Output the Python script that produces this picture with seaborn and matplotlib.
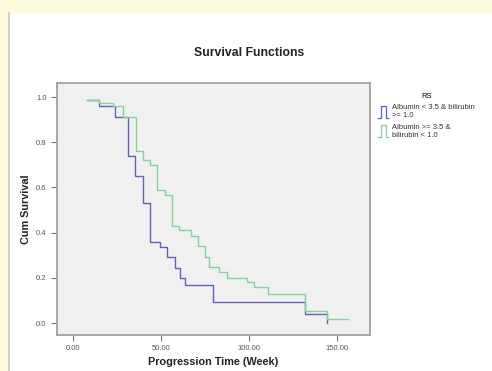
import matplotlib
matplotlib.use('Agg')
import matplotlib.pyplot as plt
from matplotlib.lines import Line2D
from matplotlib.path import Path
from matplotlib.patches import Rectangle
import seaborn as sns
import pandas as pd

# Kaplan-Meier step values (time in weeks, cumulative survival)
blue_time = [8, 15, 24, 31.5, 35, 40, 43.5, 49.4, 53.2, 58, 60.8, 63.6, 79.7, 132, 144.5]
blue_surv = [0.985, 0.96, 0.91, 0.74, 0.65, 0.53, 0.36, 0.335, 0.29, 0.243, 0.20, 0.168, 0.094, 0.04, 0.0]

green_time = [8, 15, 23, 28.5, 35.8, 40, 44, 47.5, 52.3, 56, 60, 67, 71, 75, 77,
              83, 87.3, 99, 103, 111, 132, 144.5, 156]
green_surv = [0.985, 0.975, 0.96, 0.91, 0.76, 0.72, 0.70, 0.59, 0.565, 0.43, 0.41, 0.385, 0.34, 0.29, 0.25,
              0.225, 0.20, 0.18, 0.16, 0.13, 0.055, 0.02, 0.02]

group_names = ["Albumin < 3.5 & bilirubin\n>= 1.0", "Albumin >= 3.5 &\nbilirubin < 1.0"]
group_colors = ["#6062b8", "#80d49a"]

x_ticks = [0, 50, 100, 150]
y_ticks = [0.0, 0.2, 0.4, 0.6, 0.8, 1.0]

df = pd.concat([
    pd.DataFrame({"time": blue_time, "surv": blue_surv, "group": group_names[0]}),
    pd.DataFrame({"time": green_time, "surv": green_surv, "group": group_names[1]}),
])

plt.rcParams['font.family'] = ['Liberation Sans', 'DejaVu Sans']

fig = plt.figure(figsize=(4.92, 3.71), dpi=100, facecolor='#fdf9dc')
# white page panel behind everything
fig.patches.append(Rectangle((9 / 492, 0), 1, 1 - 13 / 371, transform=fig.transFigure,
                             facecolor='white', edgecolor='none', zorder=-10))
fig.lines.append(Line2D([9 / 492, 9 / 492], [0, 1 - 13 / 371], transform=fig.transFigure,
                        color='#c8c8c0', lw=1.2, zorder=-5))

ax = fig.add_axes([57 / 492, 1 - 335 / 371, 313 / 492, 252 / 371])
ax.set_zorder(1)
ax.set_facecolor('#f0f0f0')

sns.lineplot(data=df, x='time', y='surv', hue='group', palette=group_colors,
             drawstyle='steps-post', estimator=None, linewidth=1.0, legend=False, ax=ax)

ax.set_xlim(-9.1, 168.75)
ax.set_ylim(-0.053, 1.062)
ax.set_xticks(x_ticks)
ax.set_xticklabels([f"{t:.2f}" for t in x_ticks])
ax.set_yticks(y_ticks)
ax.set_yticklabels([f"{t:.1f}" for t in y_ticks])
ax.tick_params(labelsize=5.5, labelcolor='#555555', color='#777777', length=4, width=0.8)

for sp in ax.spines.values():
    sp.set_color('#a0a0a0')
    sp.set_linewidth(1.3)

ax.set_xlabel('Progression Time (Week)', fontsize=7.8, fontweight='bold', color='#222222')
ax.set_ylabel('Cum Survival', fontsize=7.8, fontweight='bold', color='#222222')
ax.xaxis.set_label_coords(0.5, -0.087)
ax.yaxis.set_label_coords(-0.083, 0.5)

fig.text(249 / 492, 1 - 53 / 371, 'Survival Functions', ha='center', va='center',
         fontsize=8.8, fontweight='bold', color='#222222')

# step-shaped legend icon like SPSS
step_icon = Path([(-1, -1), (-0.3, -1), (-0.3, 1), (0.5, 1), (0.5, -1), (1, -1)])
handles = [Line2D([], [], marker=step_icon, linestyle='none', markersize=9,
                  markerfacecolor='none', markeredgecolor=c, markeredgewidth=0.9)
           for c in group_colors]
leg = fig.legend(handles, group_names, title='RS', loc='upper left',
                 bbox_to_anchor=(372 / 492, 1 - 86 / 371), frameon=False,
                 fontsize=5.5, title_fontsize=5.5, handlelength=1.0, handletextpad=0.7,
                 labelspacing=0.6)
for t in leg.get_texts():
    t.set_color('#333333')

fig.savefig('out.png', dpi=100, facecolor=fig.get_facecolor())
plt.close(fig)
